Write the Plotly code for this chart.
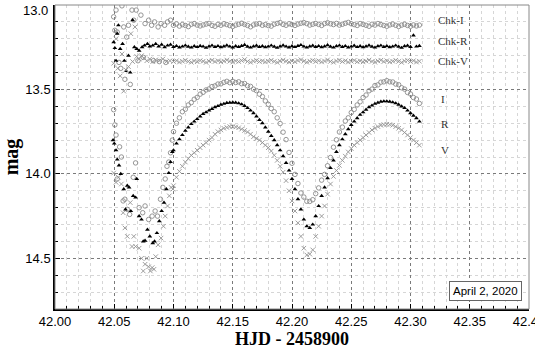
import plotly.graph_objects as go

# time stamps (HJD - 2458900) of the regular part of the run
hjd_main = [
    42.1000, 42.1025, 42.1050, 42.1075, 42.1100, 42.1125, 42.1150, 42.1175,
    42.1200, 42.1225, 42.1250, 42.1275, 42.1300, 42.1325, 42.1350, 42.1375,
    42.1400, 42.1425, 42.1450, 42.1475, 42.1500, 42.1525, 42.1550, 42.1575,
    42.1600, 42.1625, 42.1650, 42.1675, 42.1700, 42.1725, 42.1750, 42.1775,
    42.1800, 42.1825, 42.1850, 42.1875, 42.1900, 42.1925, 42.1950, 42.1975,
    42.2000, 42.2025, 42.2050, 42.2075, 42.2100, 42.2125, 42.2150, 42.2175,
    42.2200, 42.2225, 42.2250, 42.2275, 42.2300, 42.2325, 42.2350, 42.2375,
    42.2400, 42.2425, 42.2450, 42.2475, 42.2500, 42.2525, 42.2550, 42.2575,
    42.2600, 42.2625, 42.2650, 42.2675, 42.2700, 42.2725, 42.2750, 42.2775,
    42.2800, 42.2825, 42.2850, 42.2875, 42.2900, 42.2925, 42.2950, 42.2975,
    42.3000, 42.3025, 42.3050, 42.3075,
]

mag_i = [
    13.750, 13.700, 13.668, 13.632, 13.617, 13.592, 13.578, 13.558,
    13.547, 13.528, 13.517, 13.503, 13.497, 13.483, 13.479, 13.468,
    13.467, 13.458, 13.452, 13.460, 13.452, 13.459, 13.455, 13.466,
    13.465, 13.478, 13.482, 13.498, 13.507, 13.528, 13.542, 13.568,
    13.588, 13.613, 13.632, 13.668, 13.702, 13.753, 13.797, 13.873,
    13.937, 14.003, 14.057, 14.113, 14.137, 14.162, 14.163, 14.153,
    14.117, 14.083, 14.037, 14.003, 13.952, 13.903, 13.842, 13.798,
    13.752, 13.723, 13.687, 13.668, 13.637, 13.618, 13.592, 13.573,
    13.548, 13.533, 13.508, 13.498, 13.477, 13.473, 13.457, 13.455,
    13.448, 13.455, 13.456, 13.468, 13.472, 13.490, 13.498, 13.518,
    13.527, 13.548, 13.557, 13.583,
]

mag_r = [
    13.860, 13.820, 13.795, 13.770, 13.745, 13.725, 13.705, 13.690,
    13.675, 13.660, 13.645, 13.635, 13.625, 13.615, 13.605, 13.598,
    13.590, 13.585, 13.580, 13.578, 13.577, 13.578, 13.582, 13.588,
    13.597, 13.610, 13.625, 13.640, 13.660, 13.680, 13.700, 13.725,
    13.750, 13.775, 13.800, 13.830, 13.860, 13.895, 13.935, 13.980,
    14.030, 14.090, 14.150, 14.210, 14.270, 14.310, 14.320, 14.300,
    14.250, 14.190, 14.130, 14.080, 14.025, 13.965, 13.920, 13.870,
    13.830, 13.795, 13.765, 13.735, 13.710, 13.690, 13.670, 13.650,
    13.635, 13.620, 13.605, 13.595, 13.585, 13.578, 13.572, 13.570,
    13.570, 13.572, 13.576, 13.582, 13.590, 13.600, 13.610, 13.625,
    13.640, 13.655, 13.670, 13.690,
]

mag_v = [
    14.070, 14.020, 13.985, 13.955, 13.930, 13.910, 13.890, 13.875,
    13.860, 13.845, 13.830, 13.815, 13.800, 13.785, 13.765, 13.750,
    13.740, 13.730, 13.725, 13.720, 13.720, 13.722, 13.727, 13.735,
    13.743, 13.752, 13.765, 13.780, 13.790, 13.800, 13.815, 13.830,
    13.845, 13.865, 13.890, 13.920, 13.955, 13.990, 14.040, 14.100,
    14.160, 14.220, 14.290, 14.370, 14.440, 14.480, 14.475, 14.450,
    14.370, 14.310, 14.250, 14.190, 14.120, 14.060, 14.015, 13.980,
    13.950, 13.920, 13.895, 13.870, 13.850, 13.830, 13.815, 13.800,
    13.785, 13.770, 13.755, 13.740, 13.730, 13.720, 13.712, 13.708,
    13.706, 13.708, 13.712, 13.720, 13.730, 13.740, 13.755, 13.770,
    13.785, 13.800, 13.815, 13.830,
]

chk_i = [
    13.120, 13.112, 13.125, 13.116, 13.121, 13.128, 13.114, 13.110,
    13.119, 13.124, 13.118, 13.113, 13.109, 13.121, 13.126, 13.115,
    13.120, 13.111, 13.116, 13.122, 13.127, 13.119, 13.114, 13.108,
    13.115, 13.121, 13.129, 13.118, 13.113, 13.110, 13.120, 13.116,
    13.122, 13.125, 13.114, 13.109, 13.104, 13.115, 13.120, 13.111,
    13.116, 13.121, 13.113, 13.108, 13.104, 13.110, 13.119, 13.114,
    13.109, 13.115, 13.121, 13.110, 13.105, 13.111, 13.116, 13.109,
    13.119, 13.114, 13.108, 13.103, 13.111, 13.116, 13.121, 13.110,
    13.115, 13.120, 13.126, 13.114, 13.119, 13.110, 13.116, 13.121,
    13.126, 13.118, 13.113, 13.120, 13.127, 13.119, 13.114, 13.121,
    13.126, 13.118, 13.124, 13.119,
]

chk_r = [
    13.248, 13.243, 13.251, 13.246, 13.240, 13.247, 13.252, 13.244,
    13.249, 13.242, 13.246, 13.253, 13.245, 13.240, 13.248, 13.243,
    13.250, 13.245, 13.239, 13.246, 13.251, 13.244, 13.248, 13.242,
    13.236, 13.247, 13.252, 13.245, 13.241, 13.248, 13.244, 13.250,
    13.246, 13.240, 13.247, 13.253, 13.245, 13.239, 13.246, 13.251,
    13.244, 13.249, 13.242, 13.237, 13.246, 13.252, 13.245, 13.241,
    13.248, 13.243, 13.250, 13.245, 13.238, 13.247, 13.252, 13.244,
    13.240, 13.248, 13.243, 13.251, 13.246, 13.241, 13.249, 13.244,
    13.250, 13.245, 13.239, 13.247, 13.252, 13.244, 13.240, 13.248,
    13.243, 13.250, 13.246, 13.240, 13.247, 13.253, 13.244, 13.241,
    13.248, 13.180, 13.246, 13.242,
]

chk_v = [
    13.335, 13.330, 13.338, 13.333, 13.327, 13.334, 13.339, 13.331,
    13.336, 13.329, 13.333, 13.340, 13.332, 13.327, 13.335, 13.330,
    13.337, 13.332, 13.326, 13.333, 13.338, 13.331, 13.335, 13.329,
    13.323, 13.334, 13.339, 13.332, 13.328, 13.335, 13.331, 13.337,
    13.333, 13.327, 13.334, 13.340, 13.332, 13.326, 13.333, 13.338,
    13.331, 13.336, 13.329, 13.324, 13.333, 13.339, 13.332, 13.328,
    13.335, 13.330, 13.337, 13.332, 13.325, 13.334, 13.339, 13.331,
    13.327, 13.335, 13.330, 13.338, 13.333, 13.328, 13.336, 13.331,
    13.337, 13.332, 13.326, 13.334, 13.339, 13.331, 13.327, 13.335,
    13.330, 13.337, 13.333, 13.327, 13.334, 13.340, 13.331, 13.328,
    13.335, 13.330, 13.338, 13.333,
]

# noisy start of the night (twilight), irregular time stamps
early_t_i = [42.0495, 42.0505, 42.0515, 42.0525, 42.0545, 42.0560, 42.0575, 42.0590, 42.0610,
             42.0630, 42.0660, 42.0680, 42.0710, 42.0740, 42.0760, 42.0790, 42.0820, 42.0845,
             42.0865, 42.0890, 42.0910, 42.0930, 42.0945, 42.0960, 42.0975, 42.0990]
early_i = [13.62, 13.71, 13.77, 14.03, 13.84, 13.90, 14.16, 14.15, 14.21,
           14.24, 14.02, 13.935, 14.20, 14.23, 14.19, 14.27, 14.25, 14.22,
           14.25, 14.15, 14.08, 14.03, 13.955, 13.93, 13.875, 13.80]

early_t_r = [42.0490, 42.0500, 42.0515, 42.0525, 42.0540, 42.0555, 42.0580, 42.0595, 42.0610,
             42.0625, 42.0640, 42.0660, 42.0680, 42.0690, 42.0710, 42.0730, 42.0745, 42.0760,
             42.0780, 42.0800, 42.0825, 42.0840, 42.0860, 42.0880, 42.0900, 42.0920, 42.0940,
             42.0960, 42.0975, 42.0990]
early_r = [13.80, 13.82, 13.86, 13.915, 13.95, 14.00, 14.09, 14.21, 14.07,
           14.08, 14.22, 14.13, 14.14, 14.03, 14.25, 14.27, 14.40, 14.395,
           14.33, 14.37, 14.41, 14.40, 14.35, 14.28, 14.22, 14.17, 14.09,
           13.995, 13.93, 13.87]

early_t_v = [42.0495, 42.0515, 42.0535, 42.0560, 42.0575, 42.0590, 42.0610, 42.0635, 42.0650,
             42.0665, 42.0680, 42.0710, 42.0730, 42.0745, 42.0760, 42.0775, 42.0790, 42.0805,
             42.0820, 42.0835, 42.0850, 42.0870, 42.0895, 42.0915, 42.0930, 42.0950, 42.0965,
             42.0980, 42.0995]
early_v = [13.995, 14.05, 14.02, 14.06, 14.23, 14.32, 14.37, 14.17, 14.43,
           14.37, 14.43, 14.44, 14.50, 14.575, 14.535, 14.50, 14.55, 14.575,
           14.555, 14.565, 14.49, 14.42, 14.38, 14.31, 14.25, 14.19, 14.13,
           14.08, 14.09]

early_t_ci = [42.0495, 42.0505, 42.0515, 42.0525, 42.0540, 42.0555, 42.0565, 42.0580, 42.0590,
              42.0605, 42.0620, 42.0635, 42.0650, 42.0665, 42.0685, 42.0700, 42.0725, 42.0745,
              42.0760, 42.0790, 42.0815, 42.0830, 42.0840, 42.0870, 42.0880, 42.0895, 42.0925,
              42.0935, 42.0950, 42.0975]
early_ci = [13.07, 13.15, 13.03, 13.16, 13.34, 13.375, 13.005, 13.13, 13.44,
            13.19, 13.12, 13.47, 13.03, 13.09, 13.03, 13.33, 13.06, 13.31,
            13.11, 13.09, 13.12, 13.33, 13.10, 13.13, 13.335, 13.11, 13.12,
            13.34, 13.10, 13.09]

early_t_cr = [42.0495, 42.0505, 42.0515, 42.0525, 42.0535, 42.0550, 42.0570, 42.0585, 42.0600,
              42.0620, 42.0635, 42.0655, 42.0670, 42.0690, 42.0710, 42.0735, 42.0755, 42.0780,
              42.0800, 42.0825, 42.0850, 42.0875, 42.0900, 42.0925, 42.0950, 42.0975]
early_cr = [13.22, 13.255, 13.33, 13.17, 13.12, 13.26, 13.23, 13.33, 13.39,
            13.30, 13.40, 13.09, 13.25, 13.26, 13.27, 13.25, 13.24, 13.23,
            13.245, 13.24, 13.23, 13.245, 13.235, 13.25, 13.24, 13.235]

early_t_cv = [42.0495, 42.0515, 42.0530, 42.0550, 42.0565, 42.0580, 42.0600, 42.0620, 42.0640,
              42.0655, 42.0675, 42.0690, 42.0710, 42.0730, 42.0750, 42.0775, 42.0800, 42.0825,
              42.0850, 42.0880, 42.0910, 42.0940, 42.0970]
early_cv = [13.345, 13.20, 13.375, 13.42, 13.29, 13.51, 13.385, 13.365, 13.17,
            13.335, 13.13, 13.305, 13.32, 13.30, 13.315, 13.33, 13.32, 13.335,
            13.325, 13.33, 13.32, 13.335, 13.33]

labels = ["Chk-I", "Chk-R", "Chk-V", "I", "R", "V"]
label_y = [13.089, 13.213, 13.334, 13.555, 13.703, 13.857]
y_tickvals = [13.0, 13.5, 14.0, 14.5]
y_ticktext = ["", "13.5", "14.0", "14.5"]   # 13.0 is drawn below as a nudged label
top_label = "13.0"
date_text = "April 2, 2020"

GRAY = "#8a8a8a"
circle = dict(symbol="circle-open", size=4.5, color=GRAY, line=dict(width=0.9, color=GRAY))
tri = dict(symbol="triangle-up", size=4.2, color="black", line=dict(width=0))
cross = dict(symbol="x-thin-open", size=4.5, color="#939393", line=dict(width=0.9, color="#939393"))

fig = go.Figure()
series = [
    (early_t_ci, early_ci, chk_i, circle),
    (early_t_cr, early_cr, chk_r, tri),
    (early_t_cv, early_cv, chk_v, cross),
    (early_t_i, early_i, mag_i, circle),
    (early_t_v, early_v, mag_v, cross),
    (early_t_r, early_r, mag_r, tri),
]
for t0, m0, m1, mk in series:
    fig.add_trace(go.Scatter(x=t0 + hjd_main, y=m0 + m1, mode="markers",
                             marker=mk, showlegend=False, hoverinfo="skip"))

for i, (txt, yy) in enumerate(zip(labels, label_y)):
    fig.add_annotation(x=42.3215 if i < 3 else 42.324, y=yy, text=txt, showarrow=False,
                       xanchor="left", yanchor="middle",
                       font=dict(family="Liberation Serif", size=11, color="#333"))

fig.add_annotation(x=42.3637, y=14.695, text=date_text, showarrow=False,
                   xanchor="center", yanchor="middle",
                   bordercolor="#666", borderwidth=1, borderpad=3, bgcolor="white",
                   font=dict(family="Liberation Sans", size=11.5, color="black"))

tickfont = dict(family="Liberation Sans", size=13, color="black")

# top tick label pushed inside the page, as in the original
fig.add_annotation(xref="paper", yref="paper", x=0, y=1, text=top_label, showarrow=False,
                   xanchor="right", yanchor="top", xshift=-5, yshift=4, font=tickfont)

fig.add_shape(type="rect", xref="paper", yref="paper", x0=0, x1=1, y0=0, y1=1,
              line=dict(color="#888", width=1), layer="above")

fig.update_xaxes(range=[42.0, 42.4], dtick=0.05, tick0=42.0, tickformat=".2f",
                 automargin=False, ticklabeloverflow="allow",
                 showgrid=True, gridcolor="#7a7a7a", griddash="dot", gridwidth=1,
                 minor=dict(dtick=0.01, showgrid=True, gridcolor="#d6d6d6", gridwidth=1,
                            ticks="inside", ticklen=3, tickcolor="black"),
                 ticks="inside", ticklen=5, tickcolor="black",
                 showline=True, linecolor="black", linewidth=1.5, zeroline=False,
                 tickfont=tickfont,
                 title=dict(text="<b>HJD - 2458900</b>",
                            font=dict(family="Liberation Serif", size=18, color="black")))
fig.update_yaxes(range=[14.8, 13.0], tickmode="array", tickvals=y_tickvals, ticktext=y_ticktext,
                 automargin=False, ticklabeloverflow="allow",
                 showgrid=True, gridcolor="#7a7a7a", griddash="dot", gridwidth=1,
                 minor=dict(tick0=13.0, dtick=0.1, showgrid=True, gridcolor="#d6d6d6", gridwidth=1,
                            ticks="inside", ticklen=3, tickcolor="black"),
                 ticks="inside", ticklen=5, tickcolor="black",
                 showline=True, linecolor="black", linewidth=1.5, zeroline=False,
                 tickfont=tickfont,
                 title=dict(text="<b>mag</b>",
                            font=dict(family="Liberation Serif", size=20, color="black")))

fig.update_layout(width=535, height=349, margin=dict(l=55, r=6, t=5, b=40),
                  plot_bgcolor="white", paper_bgcolor="white")

# the page's default body margin would shift the figure by 8 px
fig.write_html("out.html", config={"displayModeBar": False},
               post_script="document.body.style.margin='0';")
